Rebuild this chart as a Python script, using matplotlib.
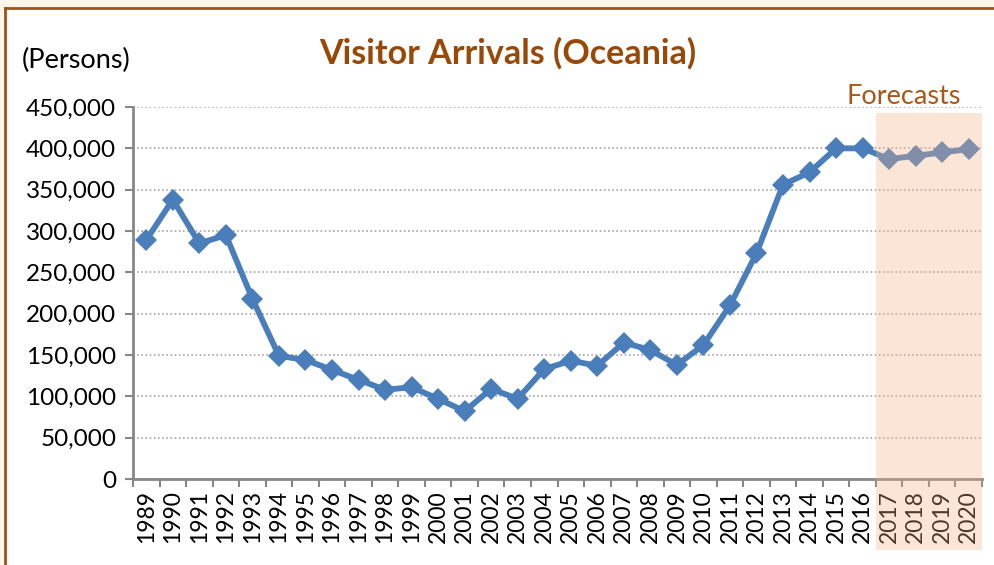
import matplotlib
matplotlib.use('Agg')
import matplotlib.pyplot as plt
import matplotlib.patches as mpatches
from matplotlib.ticker import FuncFormatter, FixedLocator
import numpy as np

years = [str(y) for y in range(1989, 2021)]
arrivals = [289000, 338000, 285000, 295000, 218000, 149000, 144000, 132000,
            120000, 108000, 111000, 97000, 82000, 109000, 97000, 133000,
            143000, 137000, 165000, 156000, 138000, 162000, 210000, 273000,
            356000, 371000, 400000, 400000, 387000, 391000, 395000, 399000]
first_forecast = '2017'

line_blue = '#4A7EBB'
grid_grey = '#A6A6A6'
axis_grey = '#878787'
title_brown = '#984807'

plt.rcParams['font.family'] = ['Lato', 'DejaVu Sans']

fig = plt.figure(figsize=(9.95, 5.65), dpi=100)
fig.patch.set_facecolor('white')
ax = fig.add_axes([133 / 995, 1 - 479 / 565, 849 / 995, 372 / 565])

x = np.arange(len(years))
ax.plot(x, arrivals, color=line_blue, linewidth=4.2, marker='D',
        markersize=11.5, markeredgewidth=0, zorder=3, clip_on=False)

ax.set_xlim(-0.5, len(years) - 0.5)
ax.set_ylim(0, 450000)
ax.yaxis.set_major_locator(FixedLocator(np.arange(0, 450001, 50000)))
ax.yaxis.set_major_formatter(FuncFormatter(lambda v, p: f'{int(v):,}'))
ax.grid(axis='y', linestyle=(0, (1, 1.5)), color=grid_grey, linewidth=1.2)
ax.set_axisbelow(True)

# category labels centred, tick marks between categories
ax.set_xticks(x)
ax.set_xticklabels(years, rotation=90)
ax.set_xticks(np.arange(-0.5, len(years)), minor=True)
ax.tick_params(axis='x', which='major', length=0, pad=8, labelsize=16.5)
ax.tick_params(axis='x', which='minor', length=6, width=1.5, color=axis_grey,
               direction='out')
ax.tick_params(axis='y', length=6, width=1.5, color=axis_grey, pad=6,
               labelsize=17.5)

for side in ['top', 'right']:
    ax.spines[side].set_visible(False)
for side in ['left', 'bottom']:
    ax.spines[side].set_color(axis_grey)
    ax.spines[side].set_linewidth(2)

fig.text(508 / 995, 1 - 53 / 565, 'Visitor Arrivals (Oceania)', ha='center',
         va='center', fontsize=24.5, fontweight='bold', color=title_brown)
fig.text(22 / 995, 1 - 60 / 565, '(Persons)', ha='left', va='center',
         fontsize=19.5, color='black')

# forecast band: tinted overlay spanning plot and year labels
x0 = ax.transData.transform((years.index(first_forecast) - 0.5, 0))[0]
x1 = ax.transData.transform((len(years) - 0.5, 0))[0]
fx0, fx1 = x0 / fig.bbox.width, x1 / fig.bbox.width
band = mpatches.Rectangle((fx0, 1 - 550 / 565), fx1 - fx0, (550 - 113) / 565,
                          transform=fig.transFigure, facecolor='#F4B183',
                          alpha=0.32, edgecolor='none', zorder=10)
fig.patches.append(band)
fig.text(904 / 995, 1 - 96 / 565, 'Forecasts', ha='center',
         va='center', fontsize=19.5, color='#A8571B')

# outer frame
fig.patches.append(mpatches.Rectangle((0, 1 - 7 / 565), 1, 7 / 565,
                                      transform=fig.transFigure,
                                      facecolor='#FEF6E8', edgecolor='none'))
fig.patches.append(mpatches.Rectangle((0, 0), 4 / 995, 1,
                                      transform=fig.transFigure,
                                      facecolor='#FEF6E8', edgecolor='none'))
fig.add_artist(plt.Line2D([5 / 995, 1], [1 - 8 / 565, 1 - 8 / 565],
                          transform=fig.transFigure, color='#A0501A',
                          linewidth=2))
fig.add_artist(plt.Line2D([5 / 995, 5 / 995], [0, 1 - 8 / 565],
                          transform=fig.transFigure, color='#A0501A',
                          linewidth=2))

fig.savefig('out.png', dpi=100)
